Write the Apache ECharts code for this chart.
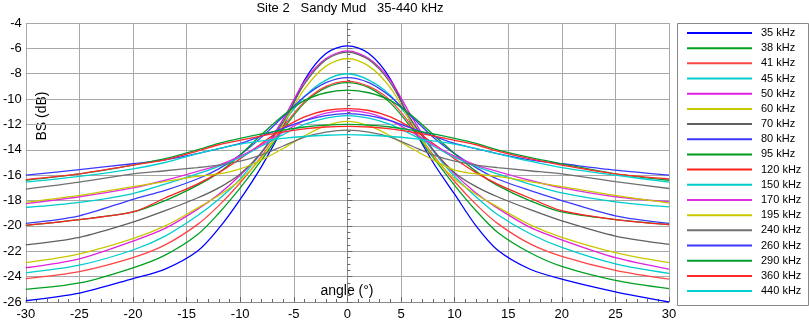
<!DOCTYPE html>
<html><head><meta charset="utf-8">
<script src="https://cdn.jsdelivr.net/npm/echarts@6/dist/echarts.min.js"></script>
<style>html,body{margin:0;padding:0;background:#fff}#c{width:809px;height:323px}</style>
</head><body><div id="c"></div>
<script>
const angles = [-30,-25,-20,-17,-14,-12,-10,-8,-6,-4,-2,0,2,4,6,8,10,12,14,17,20,25,30];
const names = ['35 kHz','38 kHz','41 kHz','45 kHz','50 kHz','60 kHz','70 kHz','80 kHz','95 kHz','120 kHz','150 kHz','170 kHz','195 kHz','240 kHz','260 kHz','290 kHz','360 kHz','440 kHz'];
const colors = ['#0000ff','#00a020','#ff4444','#00cccc','#e020e0','#c8c800','#606060','#3a3aff','#009a20','#ff2020','#00cccc','#e030e0','#c8c800','#707070','#3a3aff','#00a030','#ff2a2a','#00d0d0'];
const bs35  = [-25.9,-25.3,-24.15,-23.4,-22.0,-20.2,-17.9,-15.3,-12.2,-8.5,-6.4,-5.8,-6.4,-8.4,-12.0,-15.0,-17.5,-20.0,-21.9,-23.4,-24.2,-25.2,-26.0];
const bs38  = [-25.0,-24.5,-23.3,-22.3,-20.7,-19.0,-17.0,-14.8,-12.4,-10.3,-9.1,-8.7,-9.1,-10.3,-12.3,-14.6,-16.8,-18.8,-20.5,-22.1,-23.2,-24.3,-24.95];
const bs41  = [-24.15,-23.6,-22.5,-21.5,-19.9,-18.4,-16.6,-14.5,-12.2,-10.2,-9.0,-8.6,-9.0,-10.1,-12.1,-14.4,-16.5,-18.3,-19.8,-21.4,-22.4,-23.5,-24.2];
const bs45  = [-23.7,-23.1,-21.9,-20.8,-19.2,-17.9,-16.3,-14.2,-11.9,-9.8,-8.5,-8.0,-8.5,-9.7,-11.8,-14.1,-16.1,-17.7,-19.1,-20.6,-21.7,-23.0,-23.75];
const bs50  = [-23.3,-22.6,-21.2,-20.2,-18.7,-17.5,-16.0,-14.2,-11.6,-8.6,-6.8,-6.2,-6.8,-8.5,-11.4,-14.0,-15.9,-17.4,-18.6,-20.1,-21.1,-22.5,-23.4];
const bs60  = [-22.9,-22.2,-21.0,-20.0,-18.6,-17.6,-16.4,-14.6,-12.0,-9.2,-7.4,-6.8,-7.4,-9.1,-11.9,-14.5,-16.3,-17.5,-18.5,-19.9,-20.9,-22.1,-22.9];
const bs70  = [-21.5,-20.9,-19.7,-18.8,-17.8,-17.0,-15.9,-14.2,-11.8,-8.8,-6.9,-6.3,-6.9,-8.7,-11.7,-14.0,-15.8,-16.9,-17.7,-18.7,-19.6,-20.8,-21.45];
const bs80  = [-19.8,-19.2,-17.9,-17.2,-16.3,-15.5,-14.4,-13.0,-11.4,-9.8,-8.7,-8.3,-8.7,-9.8,-11.4,-13.0,-14.3,-15.4,-16.3,-17.2,-18.0,-19.2,-19.8];
const bs95  = [-19.95,-19.5,-18.9,-18.0,-16.8,-15.8,-14.4,-12.8,-11.3,-10.1,-9.5,-9.3,-9.5,-10.1,-11.3,-12.8,-14.3,-15.7,-16.8,-18.0,-18.9,-19.5,-19.9];
const bs120 = [-19.95,-19.5,-18.9,-17.8,-16.7,-15.8,-14.7,-13.5,-12.3,-11.4,-10.9,-10.75,-10.9,-11.4,-12.3,-13.5,-14.7,-15.8,-16.7,-17.8,-18.8,-19.5,-19.9];
const bs150 = [-18.55,-18.15,-17.45,-16.7,-15.9,-15.3,-14.6,-13.7,-12.8,-12.0,-11.5,-11.3,-11.5,-12.0,-12.8,-13.7,-14.6,-15.3,-15.9,-16.7,-17.4,-18.1,-18.5];
const bs170 = [-18.25,-17.7,-17.0,-16.4,-15.7,-15.2,-14.5,-13.6,-12.6,-11.7,-11.1,-10.9,-11.1,-11.7,-12.6,-13.6,-14.5,-15.2,-15.7,-16.4,-17.0,-17.7,-18.1];
const bs195 = [-18.15,-17.6,-16.9,-16.5,-16.1,-15.9,-15.5,-14.8,-13.9,-12.9,-12.1,-11.75,-12.1,-12.9,-13.9,-14.8,-15.6,-15.9,-16.1,-16.5,-16.9,-17.6,-18.2];
const bs240 = [-17.1,-16.55,-15.9,-15.65,-15.4,-15.2,-14.9,-14.4,-13.7,-13.0,-12.6,-12.45,-12.6,-13.0,-13.7,-14.4,-14.9,-15.2,-15.4,-15.65,-15.9,-16.5,-17.05];
const bs260 = [-16.0,-15.56,-15.1,-14.8,-14.3,-13.9,-13.5,-12.9,-12.3,-11.7,-11.3,-11.15,-11.3,-11.7,-12.3,-12.9,-13.5,-13.9,-14.3,-14.8,-15.1,-15.6,-16.0];
const bs290 = [-16.4,-15.9,-15.2,-14.7,-14.0,-13.5,-13.1,-12.75,-12.45,-12.2,-12.05,-12.0,-12.05,-12.2,-12.45,-12.75,-13.1,-13.5,-14.0,-14.6,-15.1,-15.9,-16.4];
const bs360 = [-16.35,-15.9,-15.2,-14.8,-14.1,-13.6,-13.25,-12.9,-12.6,-12.35,-12.2,-12.15,-12.2,-12.35,-12.6,-12.9,-13.25,-13.6,-14.1,-14.7,-15.2,-15.9,-16.3];
const bs440 = [-16.55,-16.1,-15.5,-15.0,-14.3,-13.9,-13.55,-13.3,-13.1,-12.95,-12.85,-12.8,-12.85,-12.95,-13.1,-13.3,-13.55,-13.9,-14.3,-14.9,-15.4,-16.0,-16.55];
const yTicks = [-26,-24,-22,-20,-18,-16,-14,-12,-10,-8,-6,-4];
const xTicks = [-30,-25,-20,-15,-10,-5,0,5,10,15,20,25,30];

const allValues = [bs35,bs38,bs41,bs45,bs50,bs60,bs70,bs80,bs95,bs120,bs150,bs170,bs195,bs240,bs260,bs290,bs360,bs440];
const FONT = 'Arial, "Liberation Sans", sans-serif';
const series = allValues.map((vals, i) => ({
  name: names[i], type: 'line', symbol: 'none', showSymbol: false, smooth: 0.3,
  data: angles.map((a, j) => [a, vals[j]]),
  lineStyle: {width: 1.3, color: colors[i]}, itemStyle: {color: colors[i]}
}));

const chart = echarts.init(document.getElementById('c'), null, {renderer: 'canvas'});
chart.setOption({
  animation: false,
  backgroundColor: '#fff',
  color: colors,
  grid: {left: 25, top: 23, width: 644, height: 279, containLabel: false},
  xAxis: {
    type: 'value', min: xTicks[0], max: xTicks[xTicks.length-1], interval: 5,
    axisLine: {show: true, lineStyle: {color: '#888', width: 1}},
    axisTick: {show: true, inside: true, length: 5, lineStyle: {color: '#666'}},
    minorTick: {show: true, splitNumber: 5, length: 3, lineStyle: {color: '#666'}},
    splitLine: {show: true, lineStyle: {color: '#a8a8a8', width: 1}},
    axisLabel: {fontSize: 13, color: '#000', fontFamily: FONT, margin: 6}
  },
  yAxis: {
    type: 'value', min: yTicks[0], max: yTicks[yTicks.length-1], interval: 2,
    axisLine: {show: true, lineStyle: {color: '#888', width: 1}},
    axisTick: {show: true, inside: true, length: 5, lineStyle: {color: '#666'}},
    minorTick: {show: true, splitNumber: 4, length: 3, lineStyle: {color: '#666'}},
    splitLine: {show: true, lineStyle: {color: '#a8a8a8', width: 1}},
    axisLabel: {fontSize: 13, color: '#000', fontFamily: FONT, margin: 4}
  },
  legend: {
    data: names.map(n => ({name: n, icon: 'rect'})), orient: 'vertical', left: 687, top: 26.5, padding: 0,
    itemWidth: 65, itemHeight: 2, itemGap: 2.18,
    textStyle: {fontSize: 11, color: '#000', fontFamily: FONT, lineHeight: 13, padding: [0,0,0,4]},
    selectedMode: false
  },
  graphic: [
    {type: 'rect', left: 675, top: 21, shape: {width: 131, height: 282}, style: {fill: 'none', stroke: '#888', lineWidth: 1}, silent: true},
    {type: 'text', x: 350, y: 2, style: {text: 'Site 2   Sandy Mud   35-440 kHz', font: '13px ' + FONT, fill: '#000', textAlign: 'center', textVerticalAlign: 'top'}},
    {type: 'text', x: 347, y: 291, style: {text: 'angle (°)', font: '14px ' + FONT, fill: '#000', textAlign: 'center', textVerticalAlign: 'middle'}},
    {type: 'text', x: 42, y: 116, rotation: Math.PI/2, style: {text: 'BS (dB)', font: '14px ' + FONT, fill: '#000', textAlign: 'center', textVerticalAlign: 'middle'}}
  ],
  series: series
});
</script></body></html>
